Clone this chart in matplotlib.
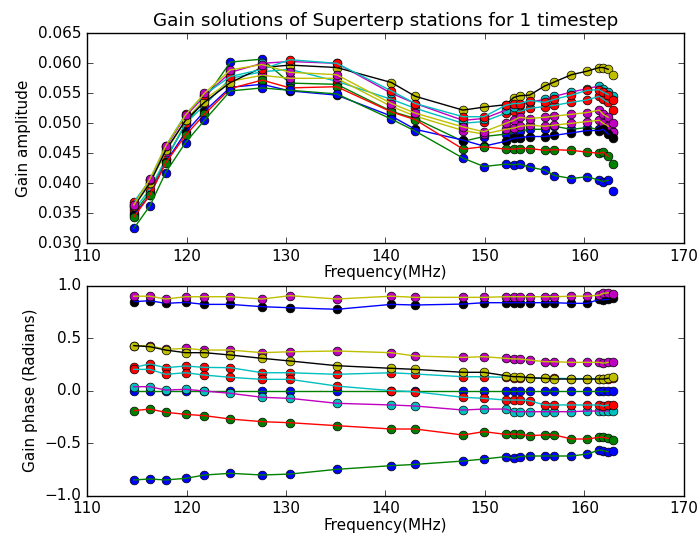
import matplotlib
matplotlib.use('Agg')
import matplotlib.pyplot as plt

# Frequencies of the subbands (MHz)
freqs = [114.7, 116.3, 117.9, 119.9, 121.8, 124.4, 127.6, 130.4, 135.1,
         140.6, 143.0, 147.8, 149.9, 152.1, 152.9, 153.5, 154.5, 156.0,
         157.0, 158.7, 160.3, 161.5, 161.9, 162.4, 162.9]

# Gain amplitude per station, in plotting order
amp_g = [0.0350, 0.0385, 0.0440, 0.0498, 0.0540, 0.0602, 0.0607, 0.0567, 0.0565,
         0.0520, 0.0508, 0.0470, 0.0478, 0.0482, 0.0485, 0.0487, 0.0490, 0.0490,
         0.0495, 0.0490, 0.0493, 0.0490, 0.0492, 0.0490, 0.0485]
amp_e = [0.0355, 0.0390, 0.0440, 0.0500, 0.0530, 0.0575, 0.0586, 0.0590, 0.0570,
         0.0540, 0.0525, 0.0500, 0.0503, 0.0517, 0.0520, 0.0520, 0.0525, 0.0528,
         0.0530, 0.0535, 0.0539, 0.0545, 0.0540, 0.0535, 0.0523]
amp_c = [0.0360, 0.0400, 0.0452, 0.0505, 0.0540, 0.0570, 0.0580, 0.0575, 0.0575,
         0.0528, 0.0512, 0.0488, 0.0482, 0.0490, 0.0492, 0.0495, 0.0497, 0.0495,
         0.0497, 0.0500, 0.0503, 0.0505, 0.0500, 0.0495, 0.0486]
amp_b = [0.0347, 0.0380, 0.0435, 0.0485, 0.0520, 0.0560, 0.0565, 0.0554, 0.0547,
         0.0512, 0.0490, 0.0472, 0.0462, 0.0470, 0.0475, 0.0476, 0.0478, 0.0478,
         0.0480, 0.0484, 0.0488, 0.0488, 0.0490, 0.0482, 0.0475]
amp_i = [0.0344, 0.0380, 0.0434, 0.0480, 0.0515, 0.0558, 0.0572, 0.0559, 0.0561,
         0.0519, 0.0506, 0.0457, 0.0461, 0.0457, 0.0457, 0.0458, 0.0458, 0.0455,
         0.0456, 0.0455, 0.0452, 0.0450, 0.0452, 0.0445, 0.0432]
amp_h = [0.0366, 0.0405, 0.0460, 0.0512, 0.0545, 0.0585, 0.0600, 0.0603, 0.0600,
         0.0550, 0.0533, 0.0505, 0.0508, 0.0522, 0.0527, 0.0530, 0.0535, 0.0540,
         0.0545, 0.0552, 0.0558, 0.0562, 0.0558, 0.0553, 0.0546]
amp_d = [0.0362, 0.0400, 0.0455, 0.0505, 0.0535, 0.0568, 0.0593, 0.0597, 0.0593,
         0.0568, 0.0545, 0.0522, 0.0527, 0.0531, 0.0543, 0.0546, 0.0547, 0.0562,
         0.0569, 0.0581, 0.0587, 0.0593, 0.0593, 0.0590, 0.0581]
amp_j = [0.0325, 0.0362, 0.0418, 0.0468, 0.0505, 0.0554, 0.0559, 0.0555, 0.0549,
         0.0507, 0.0487, 0.0442, 0.0428, 0.0432, 0.0431, 0.0432, 0.0427, 0.0422,
         0.0413, 0.0408, 0.0411, 0.0405, 0.0403, 0.0405, 0.0388]
amp_f = [0.0369, 0.0405, 0.0462, 0.0515, 0.0548, 0.0578, 0.0590, 0.0606, 0.0600,
         0.0554, 0.0533, 0.0511, 0.0511, 0.0530, 0.0533, 0.0533, 0.0538, 0.0535,
         0.0540, 0.0547, 0.0555, 0.0556, 0.0552, 0.0548, 0.0539]
amp_a = [0.0364, 0.0407, 0.0462, 0.0514, 0.0550, 0.0589, 0.0598, 0.0585, 0.0581,
         0.0533, 0.0517, 0.0494, 0.0486, 0.0500, 0.0505, 0.0510, 0.0508, 0.0510,
         0.0512, 0.0515, 0.0518, 0.0522, 0.0515, 0.0510, 0.0500]

# Gain phase per station (radians), same order
ph_g = [0.0] * 25
ph_e = [0.222, 0.254, 0.219, 0.235, 0.222, 0.219, 0.171, 0.171, 0.156, 0.171,
        0.159, 0.133, 0.133, 0.127, 0.124, 0.124, 0.118, 0.118, 0.118, 0.115,
        0.115, 0.115, 0.112, 0.115, 0.118]
ph_c = [0.429, 0.429, 0.394, 0.403, 0.387, 0.387, 0.362, 0.371, 0.378, 0.362,
        0.330, 0.317, 0.324, 0.308, 0.302, 0.302, 0.292, 0.276, 0.276, 0.270,
        0.270, 0.270, 0.262, 0.270, 0.270]
ph_b = [0.848, 0.857, 0.832, 0.841, 0.822, 0.822, 0.800, 0.790, 0.775, 0.822,
        0.816, 0.825, 0.838, 0.838, 0.838, 0.838, 0.838, 0.838, 0.838, 0.832,
        0.832, 0.870, 0.865, 0.870, 0.880]
ph_i = [-0.190, -0.175, -0.206, -0.225, -0.238, -0.270, -0.295, -0.305, -0.333,
        -0.365, -0.365, -0.422, -0.390, -0.416, -0.413, -0.416, -0.428, -0.422,
        -0.422, -0.460, -0.460, -0.444, -0.444, -0.454, -0.470]
ph_h = [0.038, 0.038, 0.006, 0.013, -0.003, -0.025, -0.063, -0.073, -0.120,
        -0.136, -0.146, -0.184, -0.175, -0.175, -0.200, -0.200, -0.200, -0.200,
        -0.200, -0.200, -0.194, -0.194, -0.194, -0.194, -0.194]
ph_d = [0.429, 0.419, 0.387, 0.362, 0.362, 0.340, 0.308, 0.283, 0.238, 0.213,
        0.203, 0.175, 0.175, 0.143, 0.133, 0.133, 0.124, 0.118, 0.111, 0.111,
        0.111, 0.111, 0.111, 0.118, 0.127]
ph_j = [-0.850, -0.841, -0.850, -0.835, -0.803, -0.787, -0.803, -0.794, -0.749,
        -0.714, -0.702, -0.670, -0.651, -0.628, -0.644, -0.628, -0.622, -0.622,
        -0.622, -0.622, -0.603, -0.565, -0.571, -0.581, -0.571]
ph_f = [0.203, 0.203, 0.156, 0.171, 0.149, 0.127, 0.108, 0.108, 0.044, 0.0,
        -0.010, -0.063, -0.073, -0.089, -0.089, -0.089, -0.095, -0.136, -0.136,
        -0.136, -0.136, -0.136, -0.146, -0.136, -0.136]
ph_a = [0.900, 0.900, 0.873, 0.895, 0.895, 0.895, 0.873, 0.905, 0.873, 0.900,
        0.889, 0.889, 0.889, 0.895, 0.895, 0.895, 0.895, 0.895, 0.895, 0.900,
        0.900, 0.910, 0.927, 0.933, 0.920]

amplitudes = [amp_g, amp_e, amp_c, amp_b, amp_i, amp_h, amp_d, amp_j, amp_f, amp_a]
phases = [ph_g, ph_e, ph_c, ph_b, ph_i, ph_h, ph_d, ph_j, ph_f, ph_a]


def plot_stations(ax, series):
    """Markers then line for each station, both taking the next cycle colour."""
    for vals in series:
        ax.plot(freqs, vals, 'o', markersize=6.3, markeredgecolor='k',
                markeredgewidth=0.5)
        ax.plot(freqs[:-1], vals[:-1], '-', linewidth=1.0)


def make_plot():
    plt.style.use('classic')
    plt.rcParams['font.family'] = ['DejaVu Sans']
    plt.rcParams['font.size'] = 11

    fig = plt.figure(figsize=(6.97, 5.33), dpi=100, facecolor='white')
    ax1 = fig.add_axes([0.125, 0.5435, 0.856, 0.394])
    ax2 = fig.add_axes([0.125, 0.070, 0.856, 0.394])

    plot_stations(ax1, amplitudes)
    ax1.set_xlim(110, 170)
    ax1.set_ylim(0.030, 0.065)
    ax1.set_yticks([0.030, 0.035, 0.040, 0.045, 0.050, 0.055, 0.060, 0.065])
    ax1.set_yticklabels(['%.3f' % v for v in ax1.get_yticks()])
    ax1.set_xlabel('Frequency(MHz)', labelpad=1)
    ax1.set_ylabel('Gain amplitude')
    ax1.set_title('Gain solutions of Superterp stations for 1 timestep',
                  fontsize=13.2)

    plot_stations(ax2, phases)
    ax2.set_xlim(110, 170)
    ax2.set_ylim(-1.0, 1.0)
    ax2.set_yticks([-1.0, -0.5, 0.0, 0.5, 1.0])
    ax2.set_xlabel('Frequency(MHz)', labelpad=1)
    ax2.set_ylabel('Gain phase (Radians)')

    for ax in (ax1, ax2):
        ax.set_xticks([110, 120, 130, 140, 150, 160, 170])
        ax.set_facecolor('white')

    fig.savefig('out.png', dpi=100, facecolor='white')
    plt.close(fig)


if __name__ == "__main__":
    make_plot()
